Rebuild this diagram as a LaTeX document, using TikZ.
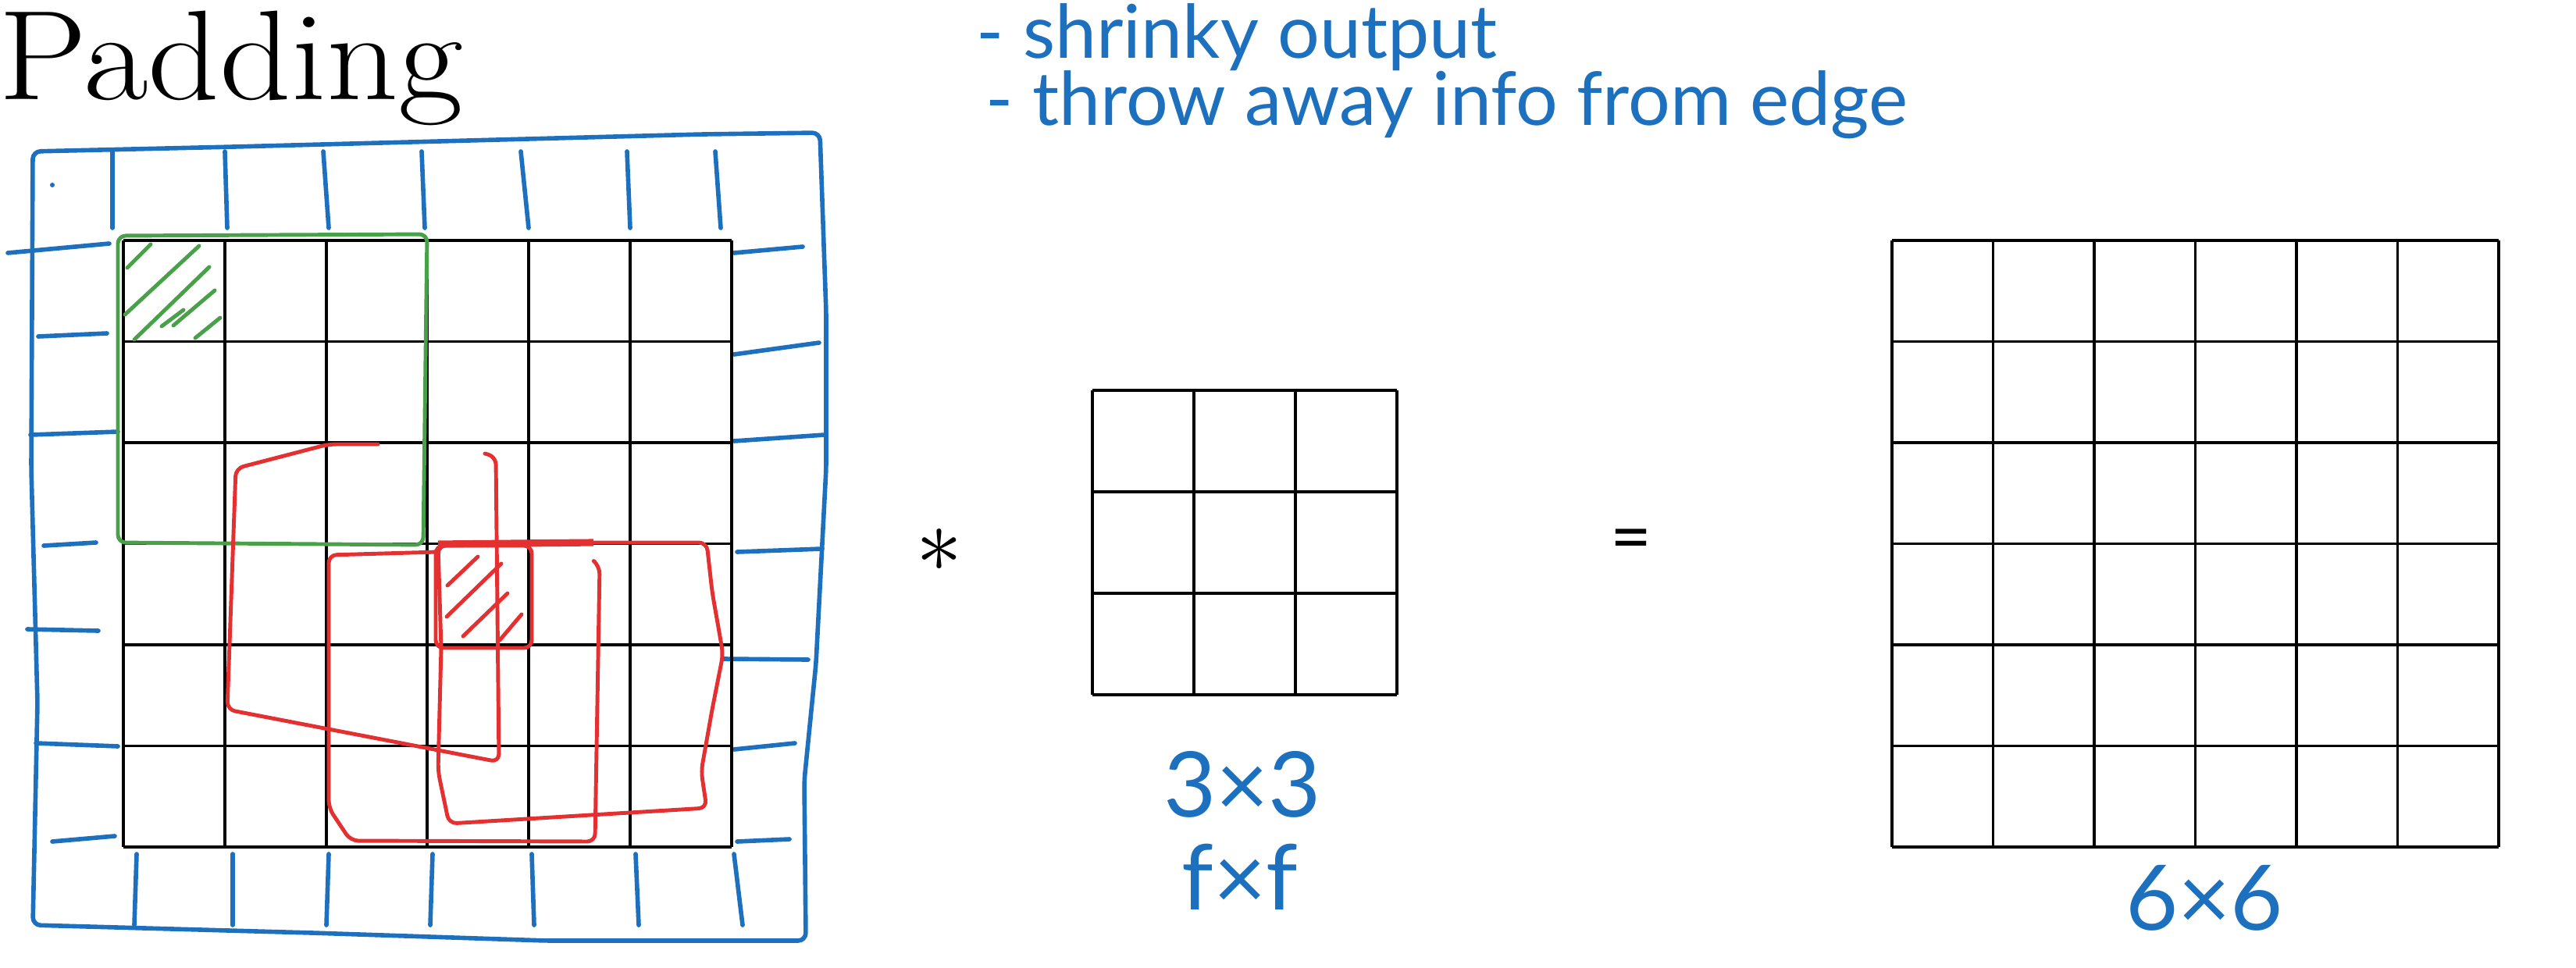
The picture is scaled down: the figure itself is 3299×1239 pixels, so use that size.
\documentclass[tikz,border=0pt]{standalone}
\usepackage{fontspec}
\newfontfamily\handfont{Lato}
\usetikzlibrary{positioning}
\definecolor{penblue}{RGB}{28,112,190}
\definecolor{pengreen}{RGB}{72,160,72}
\definecolor{penred}{RGB}{228,48,48}
\tikzset {
  % black cell lines
  gridline/.style = {
    draw = black,
    line width = 1.1pt
  },
  % hand drawn strokes
  pen/.style = {
    line width = 1.4pt,
    line cap = round,
    line join = round,
    rounded corners = 1mm
  },
  bluepen/.style = {
    pen,
    draw = penblue,
    line width = 1.6pt
  },
  greenpen/.style = {
    pen,
    draw = pengreen
  },
  redpen/.style = {
    pen,
    draw = penred
  }
}
\tikzset {
  % hand written notes
  note/.style = {
    text = penblue,
    inner sep = 0,
    font = \handfont\fontsize{27}{31}\selectfont
  },
  sizelabel/.style = {
    note,
    font = \handfont\fontsize{33}{37}\selectfont
  },
  operator/.style = {
    inner sep = 0,
    font = \fontsize{24}{28}\selectfont
  }
}

\begin{document}
\begin{tikzpicture}[x = 0.01cm, y = -0.01cm]
    \useasboundingbox (0,0) rectangle (3299,1239);

    \node[inner sep = 0, anchor = base west, font = \fontsize{46.5}{50}\selectfont]
      (title) at (-2,127) {\scalebox{1.1}[1]{Padding}};
    \node[note, anchor = base west] (shrink) at (1250,74) {- shrinky output};
    \node[note, anchor = base west] (throw) at (1262,160) {- throw away info from edge};

    % padding border
    \draw[bluepen] (42,194) -- (300,188) -- (600,180) -- (900,172) -- (1050,170)
      -- (1058,400) -- (1058,600) -- (1045,850) -- (1030,1000) -- (1032,1205)
      -- (700,1205) -- (400,1195) -- (42,1185) -- (48,900) -- (40,600) -- cycle;
    \foreach \a/\b in {144/144, 288/291, 414/421, 540/544, 667/677, 803/807, 916/923}
      \draw[bluepen] (\a,194) -- (\b,292);
    \foreach \a/\b in {175/172, 298/298, 421/418, 554/551, 681/684, 814/818, 940/951}
      \draw[bluepen] (\a,1094) -- (\b,1185);
    \foreach \a/\b/\c/\d in {10/324/140/312, 49/431/137/427, 39/557/151/553,
      56/699/123/695, 35/806/126/808, 46/952/151/956, 67/1078/147/1071}
      \draw[bluepen] (\a,\b) -- (\c,\d);
    \foreach \a/\b/\c/\d in {940/324/1028/316, 940/454/1049/439, 940/565/1056/557,
      944/707/1053/703, 926/844/1035/845, 940/960/1018/952, 944/1078/1011/1075}
      \draw[bluepen] (\a,\b) -- (\c,\d);
    \fill[penblue] (67,237) circle (3);

    % 6x6 input
    \foreach \i in {0,...,6} {
      \draw[gridline] ({158+\i*129.8},308) -- ({158+\i*129.8},1085);
      \draw[gridline] (158,{308+\i*129.5}) -- (937,{308+\i*129.5});
    }

    % 3x3 filter
    \foreach \i in {0,...,3} {
      \draw[gridline] ({1399+\i*130},500) -- ({1399+\i*130},890);
      \draw[gridline] (1399,{500+\i*130}) -- (1789,{500+\i*130});
    }

    % 6x6 output
    \foreach \i in {0,...,6} {
      \draw[gridline] ({2423+\i*129.5},308) -- ({2423+\i*129.5},1085);
      \draw[gridline] (2423,{308+\i*129.5}) -- (3200,{308+\i*129.5});
    }

    % filter positions
    \draw[greenpen] (151,302) -- (547,300) -- (542,698) -- (151,695) -- cycle;
    \foreach \a/\b in {{(163,343)}/{(193,313)}, {(160,403)}/{(255,315)},
      {(172,435)}/{(268,342)}, {(207,418)}/{(235,397)},
      {(222,417)}/{(275,372)}, {(250,433)}/{(282,407)}}
      \draw[greenpen] \a -- \b;

    \draw[redpen] (484,569) -- (421,569) -- (302,600) -- (291,909) -- (639,976)
      -- (635,585) -- (621,581);
    \draw[redpen] (561,707) -- (421,711) -- (421,1035) -- (449,1077) -- (762,1078)
      -- (768,725) -- (762,720);
    \draw[redpen] (561,699) -- (744,695) -- (905,695) -- (912,758) -- (926,838)
      -- (912,909) -- (898,988) -- (905,1035) -- (575,1055) -- (561,988)
      -- (565,830) -- cycle;
    \draw[redpen] (558,699) -- (681,699) -- (681,830) -- (558,830) -- cycle;
    \draw[penred, line width = 2.6pt] (561,697) -- (760,695);
    \foreach \a/\b in {{(573,750)}/{(612,713)}, {(572,790)}/{(642,722)},
      {(593,815)}/{(650,760)}, {(640,820)}/{(668,787)}}
      \draw[redpen] \a -- \b;

    \node[operator] (conv) at (1203,705) {\scalebox{1.35}{$\ast$}};
    \node[operator, font = \handfont\fontsize{26}{30}\selectfont] (equals) at (2089,699) {=};

    \node[sizelabel] (kernel) at (1591,1005) {3×3};
    \node[sizelabel] (kernelf) at (1588,1123) {f×f};
    \node[sizelabel] (output) at (2823,1150) {6×6};
  \end{tikzpicture}
\end{document}
